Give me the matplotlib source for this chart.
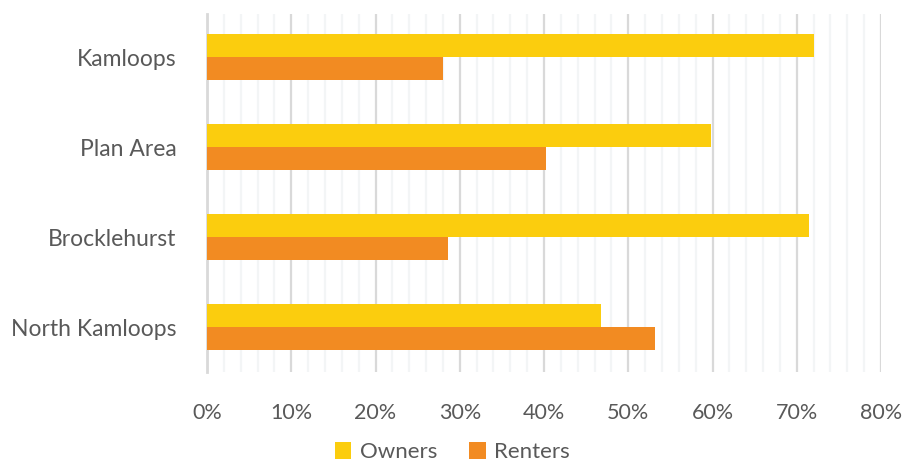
import numpy as np
import matplotlib
matplotlib.use("Agg")
import matplotlib.pyplot as plt
from matplotlib.ticker import MultipleLocator, PercentFormatter

plt.rcParams['font.family'] = ['Lato', 'DejaVu Sans']

# data (percent of households)
areas = ["Kamloops", "Plan Area", "Brocklehurst", "North Kamloops"]
owners = [72.0, 59.8, 71.4, 46.8]
renters = [28.0, 40.2, 28.6, 53.2]

owner_col = "#FBCD0E"
renter_col = "#F28B22"
text_col = "#595959"

fig = plt.figure(figsize=(9.05, 4.66), dpi=100)
ax = fig.add_axes([207/905, 1 - 372/466, (881-207)/905, (372-14)/466])

y = np.arange(len(areas))[::-1]
h = 0.255
ax.barh(y + h/2, owners, height=h, color=owner_col, label="Owners", zorder=3)
ax.barh(y - h/2, renters, height=h, color=renter_col, label="Renters", zorder=3)

ax.set_xlim(0, 80)
ax.set_ylim(-0.5, 3.48)
ax.xaxis.set_major_locator(MultipleLocator(10))
ax.xaxis.set_minor_locator(MultipleLocator(2))
ax.xaxis.set_major_formatter(PercentFormatter(decimals=0))
ax.grid(axis='x', which='major', color="#D9D9D9", lw=1.6, zorder=1)
ax.grid(axis='x', which='minor', color="#F3F5F6", lw=1.6, zorder=0)

ax.set_yticks(y)
ax.set_yticklabels(areas)
ax.tick_params(axis='both', which='both', length=0, colors=text_col)
ax.tick_params(axis='x', pad=22, labelsize=15.5)
ax.tick_params(axis='y', pad=22, labelsize=16.5)

for s in ['top', 'right', 'bottom']:
    ax.spines[s].set_visible(False)
ax.spines['left'].set_color("#D9D9D9")
ax.spines['left'].set_linewidth(2)

fig.legend(loc='lower center', bbox_to_anchor=(0.5, -0.035), ncol=2, frameon=False,
           fontsize=16, labelcolor=text_col, handlelength=0.75, handleheight=0.75,
           handletextpad=0.4, columnspacing=1.4)

fig.savefig("out.png", dpi=100)
